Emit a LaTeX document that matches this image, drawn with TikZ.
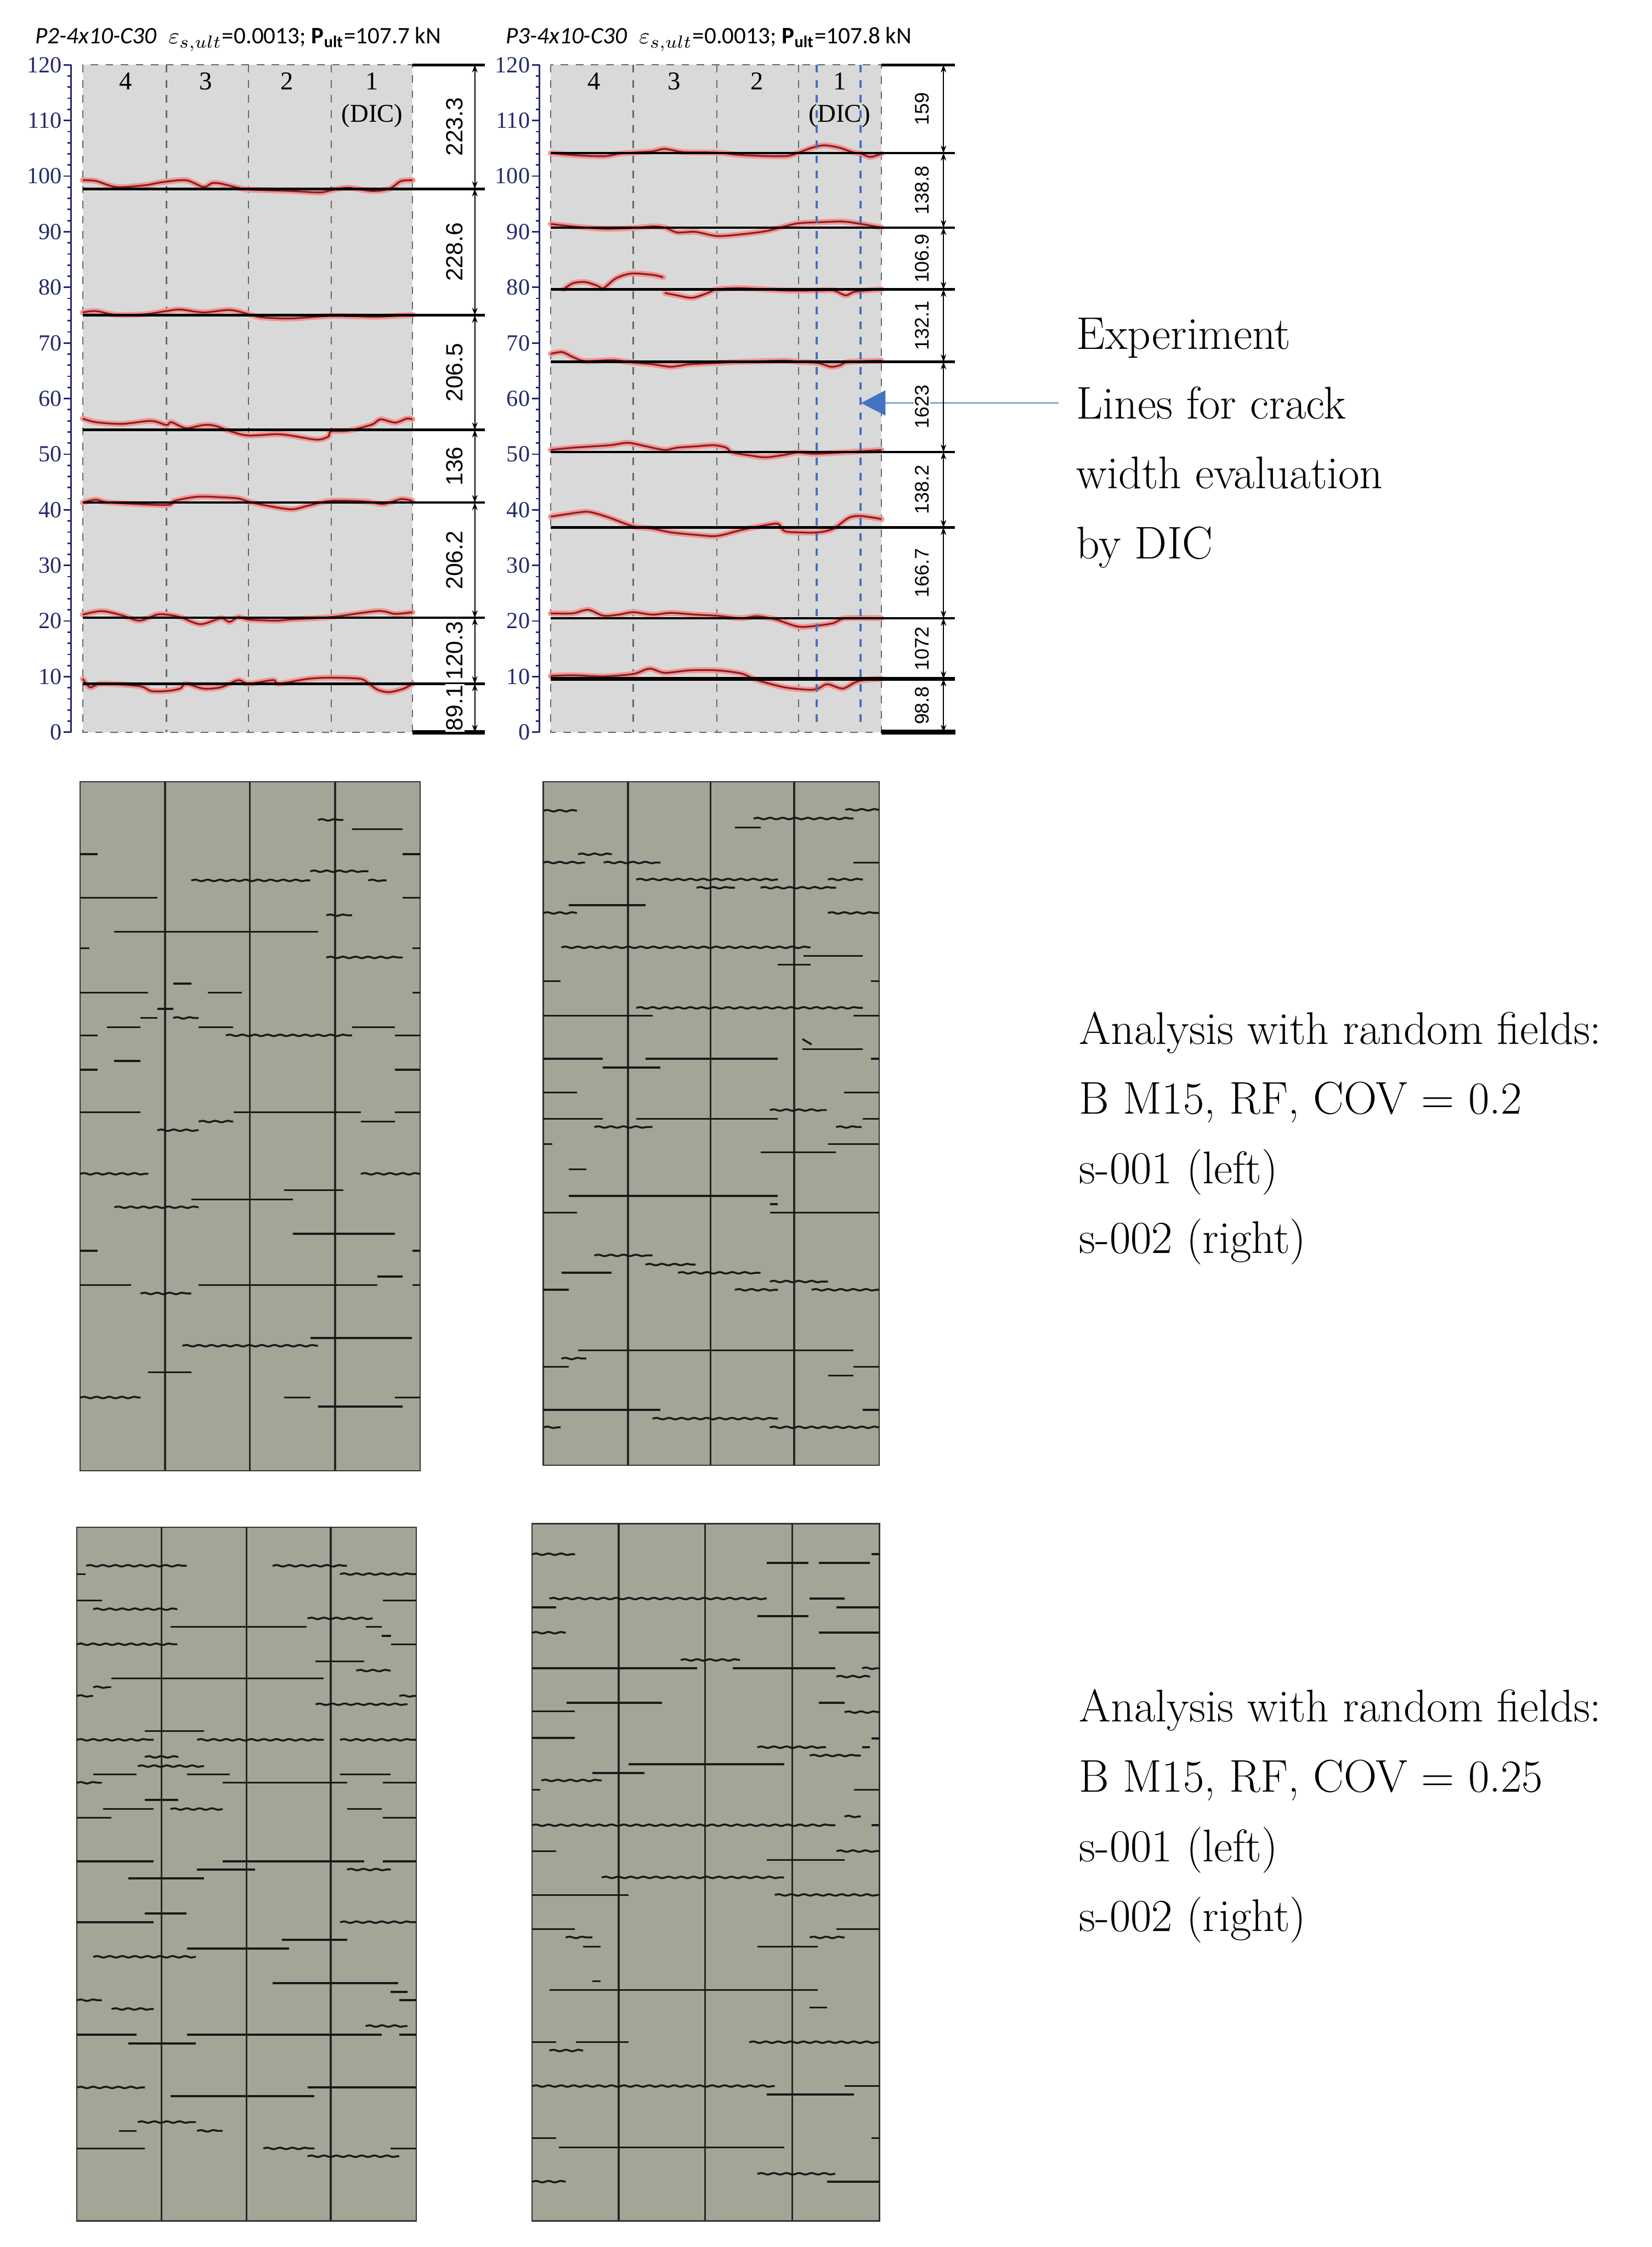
\documentclass[tikz,border=0pt]{standalone}
\usepackage{fontspec}
\newfontfamily\carlito{Carlito}
\newfontfamily\libserif{Liberation Serif}
\newfontfamily\libsans{Liberation Sans}
\usetikzlibrary{arrows.meta, decorations.pathmorphing}

\definecolor{plotgray}{RGB}{217,217,217}
\definecolor{panelgray}{RGB}{164,164,151}
\definecolor{redcore}{RGB}{140,30,30}
\definecolor{redglow}{RGB}{242,150,150}
\definecolor{axnavy}{RGB}{35,42,105}
\definecolor{dicblue}{RGB}{70,110,190}
\definecolor{arrowblue}{RGB}{68,114,196}
\definecolor{shaftblue}{RGB}{140,165,205}

\newcommand{\redcrack}[2]{%
  \begin{scope}[shift={(0,#1)}]
    \draw[crackglow] plot[smooth, tension=0.5] coordinates {#2};
    \draw[crackred] plot[smooth, tension=0.5] coordinates {#2};
  \end{scope}}

\begin{document}
\begin{tikzpicture}[x=0.02cm, y=-0.02cm,
  plotbg/.style={fill=plotgray},
  coldiv/.style={draw=gray!80!black, dashed, line width=0.5pt},
  crackblk/.style={draw=black, line width=1pt},
  crackglow/.style={draw=redglow, line width=2.3pt, line cap=round},
  crackred/.style={draw=redcore, line width=0.7pt},
  dicline/.style={draw=dicblue, dashed, line width=0.8pt},
  dimarr/.style={{Stealth[length=3pt,width=2.2pt]}-{Stealth[length=3pt,width=2.2pt]}, line width=0.5pt},
  dimlbl/.style={rotate=90, fill=white, inner sep=0.5pt, font=\libsans\fontsize{9.3}{10}\selectfont},
  dimlbls/.style={dimlbl, font=\libsans\fontsize{7.8}{9}\selectfont},
  colno/.style={inner sep=0pt, font=\libserif\fontsize{10.2}{11}\selectfont},
  axline/.style={draw=axnavy, line width=0.6pt},
  axnum/.style={anchor=east, inner sep=0.5pt, text=axnavy, font=\libserif\fontsize{9.2}{10}\selectfont},
  ttl/.style={anchor=base west, inner sep=0pt, font=\carlito\fontsize{9.4}{11}\selectfont},
  note/.style={anchor=base west, inner xsep=0pt, inner ysep=2pt, font=\fontsize{18.2}{20}\selectfont},
  pointer/.style={-{Triangle[length=0.34cm,width=0.35cm,color=arrowblue]}, draw=shaftblue, line width=0.6pt, shorten <=0.24cm},
  panelbg/.style={fill=panelgray, draw=gray!40!black, line width=0.5pt},
  paneldiv/.style={draw=gray!30!black, line width=0.8pt},
  crk/.style={draw=black!90, line width=0.75pt},
  crkw/.style={crk, decorate, decoration={snake, amplitude=0.3pt, segment length=5pt}}
]
\useasboundingbox (0,0) rectangle (1153,1568);

% left test chart
\fill[plotbg] (57.8,45.3) rectangle (287.9,511);
\foreach \x in {116.2,173.4,231.1} \draw[coldiv] (\x,45.3) -- (\x,511);
\draw[coldiv] (57.8,45.3) rectangle (287.9,511);
\foreach \x/\t in {87.6/4,143.6/3,200.3/2,259.5/1} \node[colno] (lc\t) at (\x,56.6) {\t};
\node[colno] (ldic) at (259.8,81) {(DIC)};
\redcrack{131.8}{(57.8,-6) (67,-5.5) (81,-1.3) (101,-2.5) (113.5,-4.7) (130,-6) (142,-1.3) (148,-4) (154,-3.7) (166,-0.8) (174,0.5) (203,1.5) (223,2.5) (231,1) (243,-0.8) (259.5,1.5) (271.7,0) (279.8,-5.4) (288,-6)}
\redcrack{220}{(57.8,-2) (67,-2.9) (81,-0.3) (101,-0.7) (116,-2.9) (126,-4) (142,-2) (160,-3.7) (172,-1.2) (182.5,1.4) (203,2.2) (231,0.5) (263.6,1) (288,-0.3)}
\redcrack{300}{(57.8,-7.9) (66.9,-5.4) (85.2,-4.2) (105.4,-6.3) (116.2,-3.4) (119.6,-5.4) (129.8,-1.2) (141.9,-3.4) (150,-2.9) (162.2,1.4) (173.4,3.9) (192.6,3) (202.8,3.9) (221,6.8) (229.1,4.7) (231.1,1) (243.3,0.5) (259.5,-3.7) (265.6,-7.4) (275.8,-5.1) (283.9,-7.9) (287.9,-7.4)}
\redcrack{350.7}{(57.8,0) (66.9,-2) (77,0) (116.2,1.7) (121.7,-1.2) (137.9,-4.1) (154.1,-3.7) (166.3,-2.9) (173.4,-0.7) (182.5,1.4) (202.8,4.7) (214.9,2.2) (231.1,-1.2) (255.5,-0.7) (267.6,1) (279.8,-2.4) (287.9,-1.2)}
\redcrack{431.1}{(57.8,-2.2) (71,-4.7) (85.2,-1.7) (97.3,2) (109.5,-2.2) (116.2,-2.2) (125.7,-0.5) (139.9,4.5) (154.1,0.3) (160.2,2.9) (166.3,-0.5) (173.4,1.2) (192.6,2) (202.8,1.2) (231.1,-0.5) (263.6,-4.7) (275.8,-2.7) (287.9,-3.9)}
\redcrack{477.1}{(57.8,-3.4) (62.9,2.5) (71,0) (97.3,1.7) (105.4,5.1) (116.2,5.1) (125.7,3.4) (129.8,0) (141.9,3.4) (154.1,2.5) (166.3,-2.5) (173.4,0) (190.6,-2.5) (194.6,0) (214.9,-3.4) (231.1,-4.2) (251.4,-3.4) (257.5,0) (263.6,4.2) (271.7,5.9) (281.8,3.4) (287.9,0)}
\foreach \y in {131.8,220,300,350.7,431.1,477.1} \draw[crackblk] (57.8,\y) -- (338.5,\y);
\draw[crackblk] (287.9,45.3) -- (338.5,45.3);
\draw[crackblk, line width=1.6pt] (287.9,511) -- (338.5,511);
\foreach \a/\b/\t [count=\i] in {45.3/131.8/223.3, 131.8/220/228.6, 220/300/206.5, 300/350.7/136, 350.7/431.1/206.2, 431.1/477.1/120.3, 477.1/511/89.1} {
  \draw[dimarr] (331.4,\a) -- (331.4,\b);
  \node[dimlbl] (ld\i) at (317.4,{(\a+\b)/2}) {\t};
}
\draw[axline] (49.7,45.3) -- (49.7,511);
\foreach \v in {0,2,...,120} \draw[axline] (49.7,{511-3.881*\v}) -- ++(-2.6,0);
\foreach \v in {0,10,...,120} {
  \draw[axline] (49.7,{511-3.881*\v}) -- ++(-5.2,0);
  \node[axnum] (la\v) at (44.3,{511-3.881*\v}) {\v};
}
\node[ttl] (ltitle) at (24.3,30.4) {\textit{P2-4x10-C30}\enspace $\varepsilon_{s,ult}$=0.0013; \textbf{P\textsubscript{ult}}=107.7 kN};

% right test chart
\fill[plotbg] (384.4,45.3) rectangle (615.3,511);
\foreach \x in {442,500.4,557.3} \draw[coldiv] (\x,45.3) -- (\x,511);
\draw[coldiv] (384.4,45.3) rectangle (615.3,511);
\foreach \x/\t in {414.8/4,470.4/3,528.2/2,586/1} \node[colno] (rc\t) at (\x,56.6) {\t};
\node[colno] (rdic) at (586,81) {(DIC)};
\redcrack{106.8}{(384.4,0) (399.8,1.4) (421.2,2.2) (431.9,0.5) (442,-0.3) (455.5,-1.2) (464,-2.9) (476.9,-0.7) (500.4,-0.3) (517.5,1.4) (547.5,2.2) (557.3,-0.3) (566.7,-3.7) (575.3,-5.4) (586,-3.7) (594.6,-0.7) (601,0.5) (607.4,2.7) (615.3,0.5)}
\redcrack{158.8}{(384.4,-2.5) (399.8,-0.8) (421.2,0.8) (442,0.3) (455.5,-0.8) (464,0) (472.6,3.4) (485.4,3) (500.4,5.9) (517.5,4.7) (534.6,2.5) (547.5,-0.8) (557.3,-3) (571,-3.7) (588.1,-4.2) (601,-2.5) (615.3,0)}
\redcrack{201.9}{(393.4,0) (399.8,-4.2) (408.4,-5.1) (416.9,-2.5) (421.2,-0.8) (429.8,-7.6) (440.5,-11) (455.5,-10.1) (462.9,-8.4)}
\redcrack{201.9}{(464,2.5) (472.6,4.2) (483.3,5.9) (494,2.5) (500.4,0) (517.5,-0.8) (547.5,0.8) (571,0.8) (581.7,0.8) (590.3,4.2) (596.7,1.7) (615.3,0)}
\redcrack{252.5}{(384.4,-5.6) (392.3,-6.8) (399.8,-3.4) (408.4,-0.5) (427.6,-1.2) (442,0.5) (455.5,1.7) (468.3,3.4) (481.1,1.7) (500.4,0.8) (517.5,0) (547.5,-0.8) (557.3,0) (571,0.8) (579.6,3.4) (586,2.5) (592.4,0) (615.3,-0.8)}
\redcrack{315.4}{(384.4,-1.4) (399.8,-3) (425.5,-4.7) (438.3,-6.4) (451.2,-3.9) (464,-1.4) (472.6,-3) (485.4,-3.9) (498.3,-4.7) (506.8,-3) (511.1,0.3) (523.9,2.5) (534.6,3.7) (547.5,2) (557.3,0.3) (571,1.2) (615.3,-1.4)}
\redcrack{368.1}{(384.4,-7.6) (395.5,-9.3) (408.4,-11) (414.8,-10.1) (425.5,-6.8) (442,-0.8) (455.5,0.8) (468.3,3.4) (485.4,5.1) (500.4,5.9) (517.5,1.7) (534.6,-1.7) (543.2,-2.5) (547.5,2.5) (557.3,3.4) (571,3.4) (581.7,0.8) (592.4,-6.8) (601,-8) (615.3,-5.9)}
\redcrack{431.4}{(384.4,-3.4) (399.8,-3.4) (410.5,-5.9) (421.2,-1.7) (431.9,-2.5) (442,-4.2) (455.5,-2.5) (468.3,-3.7) (485.4,-2.5) (500.4,-1.7) (517.5,0) (528.2,-1.4) (541.1,0.8) (557.3,5.9) (571,5.1) (581.7,3.4) (590.3,0) (615.3,0)}
\redcrack{473.7}{(384.4,-2) (399.8,-2.5) (421.2,-1.7) (442,-3.4) (453.3,-7.1) (464,-4.2) (481.1,-5.9) (500.4,-5.9) (517.5,-3.7) (528.2,0.8) (547.5,5.9) (564.6,7.6) (571,6.8) (577.4,3.7) (588.1,6.8) (596.7,2.5) (603.1,0.8) (615.3,0)}
\foreach \x in {570,600.6} \draw[dicline] (\x,45.3) -- (\x,508);
\foreach \y in {106.8,158.8,201.9,252.5,315.4,368.1,431.4} \draw[crackblk] (384.4,\y) -- (666.3,\y);
\draw[crackblk, line width=1.4pt] (384.4,473.7) -- (666.3,473.7);
\draw[crackblk] (615.3,45.3) -- (666.3,45.3);
\draw[crackblk, line width=2pt] (615.3,511) -- (667,511);
\draw[axline] (376.5,45.3) -- (376.5,511);
\foreach \v in {0,2,...,120} \draw[axline] (376.5,{511-3.881*\v}) -- ++(-2.6,0);
\foreach \v in {0,10,...,120} {
  \draw[axline] (376.5,{511-3.881*\v}) -- ++(-5.2,0);
  \node[axnum] (ra\v) at (371.1,{511-3.881*\v}) {\v};
}
\node[ttl] (rtitle) at (352.7,30.4) {\textit{P3-4x10-C30}\enspace $\varepsilon_{s,ult}$=0.0013; \textbf{P\textsubscript{ult}}=107.8 kN};

% note and pointer
\foreach \t [count=\i] in {Experiment, Lines for crack, width evaluation, by DIC}
  \node[note] (exp\i) at (751,{243.6+(\i-1)*48.7}) {\t};
\coordinate (dictip) at (601,282);
\draw[pointer] (exp2.west) -- (exp2.west -| dictip);
\foreach \a/\b/\t [count=\i] in {45.3/106.8/159, 106.8/158.8/138.8, 158.8/201.9/106.9, 201.9/252.5/132.1, 252.5/315.4/1623, 315.4/368.1/138.2, 368.1/431.4/166.7, 431.4/473.7/1072, 473.7/511/98.8} {
  \draw[dimarr] (658.5,\a) -- (658.5,\b);
  \node[dimlbls] (rd\i) at (643.5,{(\a+\b)/2}) {\t};
}

% random field s-001, COV 0.2
\begin{scope}[shift={(49.45,536.93)}, xscale=0.1622, yscale=0.3199]
  \filldraw[panelbg] (40,27) rectangle (1503,1530);
  \foreach \x in {405,770,1137} \draw[paneldiv] (\x,27) -- (\x,1530);
  \foreach \a/\b/\c in {1210/1428/130, 40/115/185, 1428/1503/185, 40/372/280, 1428/1503/280, 187/1063/354, 40/80/390, 1470/1503/390, 440/518/467, 40/333/487, 590/735/487, 1470/1503/487, 372/440/522, 300/372/542, 155/300/562, 550/698/562, 1210/1395/562, 40/115/580, 1395/1503/580, 187/300/636, 40/115/655, 1395/1503/655, 40/300/748, 700/1248/748, 1395/1503/748, 1248/1395/768, 917/1172/918, 518/955/938, 955/1395/1013, 40/115/1050, 1470/1503/1050, 1320/1428/1106, 40/260/1125, 550/1320/1125, 1470/1503/1125, 1030/1467/1240, 333/518/1315, 917/1030/1370, 1395/1503/1370, 1063/1428/1390}
    \draw[crk] (\a,\c) -- (\b,\c);
  \foreach \a/\b/\c in {1063/1172/110, 1030/1280/222, 518/1030/242, 1280/1358/242, 1100/1210/318, 1100/1428/410, 440/550/542, 667/1210/580, 550/698/768, 372/550/787, 40/333/882, 1248/1503/882, 187/550/955, 300/518/1143, 480/1063/1257, 40/300/1370}
    \draw[crkw] (\a,\c) -- (\b,\c);
\end{scope}

% random field s-002, COV 0.2
\begin{scope}[shift={(372.67,536.93)}, xscale=0.1622, yscale=0.3199]
  \filldraw[panelbg] (40,27) rectangle (1485,1518);
  \foreach \x in {405,760,1120} \draw[paneldiv] (\x,27) -- (\x,1518);
  \foreach \a/\b/\c in {865/975/127, 1375/1485/203, 150/480/296, 1160/1415/407, 1050/1190/426, 40/115/462, 1450/1485/462, 40/510/537, 1375/1485/537, 1155/1415/610, 40/295/631, 480/1050/631, 1450/1485/631, 295/545/650, 40/185/705, 1335/1485/705, 40/295/762, 440/1050/762, 1415/1485/762, 40/80/817, 1265/1485/817, 975/1300/835, 150/225/872, 150/1050/930, 1015/1050/948, 40/185/967, 1015/1485/967, 118/335/1098, 40/150/1135, 190/1375/1267, 40/150/1303, 1375/1485/1303, 1265/1375/1322, 40/545/1397, 1415/1485/1397}
    \draw[crk] (\a,\c) -- (\b,\c);
  \foreach \a/\b/\c in {40/185/90, 1340/1485/88, 945/1375/107, 190/335/185, 40/220/203, 300/545/203, 440/1050/240, 1265/1415/240, 700/865/258, 975/1300/258, 40/185/313, 1265/1485/313, 118/1190/388, 440/1415/520, 1015/1260/743, 260/510/780, 1300/1410/780, 260/510/1060, 480/695/1080, 620/975/1098, 1015/1265/1117, 865/1050/1135, 1195/1485/1135, 118/225/1285, 510/1050/1416, 40/115/1435, 1015/1485/1435}
    \draw[crkw] (\a,\c) -- (\b,\c);
  \draw[crk] (1155,588) -- (1195,600);
\end{scope}

\foreach \t [count=\i] in {Analysis with random fields:, {B M15, RF, COV = 0.2}, s-001 (left), s-002 (right)}
  \node[note] (rfa\i) at (753,{728.6+(\i-1)*48.7}) {\t};

% random field s-001, COV 0.25
\begin{scope}[shift={(45.92,1056.2)}, xscale=0.1622, yscale=0.32216]
  \filldraw[panelbg] (47,30) rectangle (1508,1532);
  \foreach \x in {412,778,1140} \draw[paneldiv] (\x,30) -- (\x,1532);
  \foreach \a/\b/\c in {47/85/131, 47/155/188, 1365/1508/188, 450/1035/245, 1290/1360/245, 1360/1400/265, 1400/1508/283, 1075/1285/320, 197/1110/357, 340/595/471, 118/305/565, 522/705/565, 1180/1398/565, 675/1210/583, 1365/1508/583, 340/485/620, 160/378/640, 1210/1360/640, 47/195/659, 1365/1508/659, 47/378/753, 675/1285/753, 1365/1508/753, 565/815/771, 270/595/790, 340/520/866, 47/378/885, 930/1210/923, 522/960/942, 890/1430/1017, 1398/1470/1036, 1435/1508/1054, 47/305/1129, 522/1360/1129, 1435/1508/1129, 270/560/1148, 1040/1508/1243, 450/1070/1262, 228/305/1337, 47/340/1375, 1398/1508/1375}
    \draw[crk] (\a,\c) -- (\b,\c);
  \foreach \a/\b/\c in {88/520/113, 890/1210/113, 1180/1508/131, 118/480/207, 1040/1320/227, 47/480/283, 1250/1398/340, 118/195/376, 47/118/395, 1435/1508/395, 1075/1470/413, 47/378/490, 565/1110/490, 1180/1508/490, 340/485/527, 310/595/547, 47/155/583, 450/675/640, 1210/1398/771, 1180/1508/885, 118/560/960, 47/155/1054, 197/378/1073, 1290/1470/1110, 47/340/1243, 310/560/1318, 565/675/1337, 850/1070/1375, 1040/1435/1392}
    \draw[crkw] (\a,\c) -- (\b,\c);
\end{scope}

% random field s-002, COV 0.25
\begin{scope}[shift={(365.61,1056.2)}, xscale=0.1622, yscale=0.32216]
  \filldraw[panelbg] (35,22) rectangle (1530,1532);
  \foreach \x in {408,780,1155} \draw[paneldiv] (\x,22) -- (\x,1532);
  \foreach \a/\b/\c in {1045/1225/107, 1270/1490/107, 1495/1530/88, 1230/1380/184, 35/140/203, 1345/1530/203, 1005/1225/222, 1270/1530/258, 35/745/335, 900/1340/335, 185/595/410, 1270/1380/410, 35/220/428, 35/220/486, 1495/1530/487, 1455/1490/506, 450/1120/543, 295/520/562, 35/70/598, 1420/1530/598, 1495/1530/675, 35/140/731, 1045/1380/750, 35/450/826, 35/220/900, 1345/1530/900, 255/330/938, 1005/1265/938, 295/330/1013, 110/1265/1032, 1230/1305/1070, 35/140/1145, 225/450/1145, 1380/1530/1240, 1045/1420/1258, 35/140/1353, 150/1120/1373, 1495/1530/1353, 1305/1530/1447}
    \draw[crk] (\a,\c) -- (\b,\c);
  \foreach \a/\b/\c in {35/220/88, 110/1045/184, 35/180/258, 675/930/317, 1455/1530/335, 1345/1490/353, 1380/1530/430, 1005/1300/506, 1230/1450/524, 75/335/578, 1380/1450/656, 35/1340/675, 1345/1530/731, 335/1120/788, 1080/1530/826, 180/295/918, 1230/1380/918, 970/1530/1145, 110/255/1163, 35/1080/1240, 35/180/1447, 1005/1340/1430}
    \draw[crkw] (\a,\c) -- (\b,\c);
\end{scope}

\foreach \t [count=\i] in {Analysis with random fields:, {B M15, RF, COV = 0.25}, s-001 (left), s-002 (right)}
  \node[note] (rfb\i) at (753,{1201.6+(\i-1)*48.7}) {\t};
\end{tikzpicture}
\end{document}
